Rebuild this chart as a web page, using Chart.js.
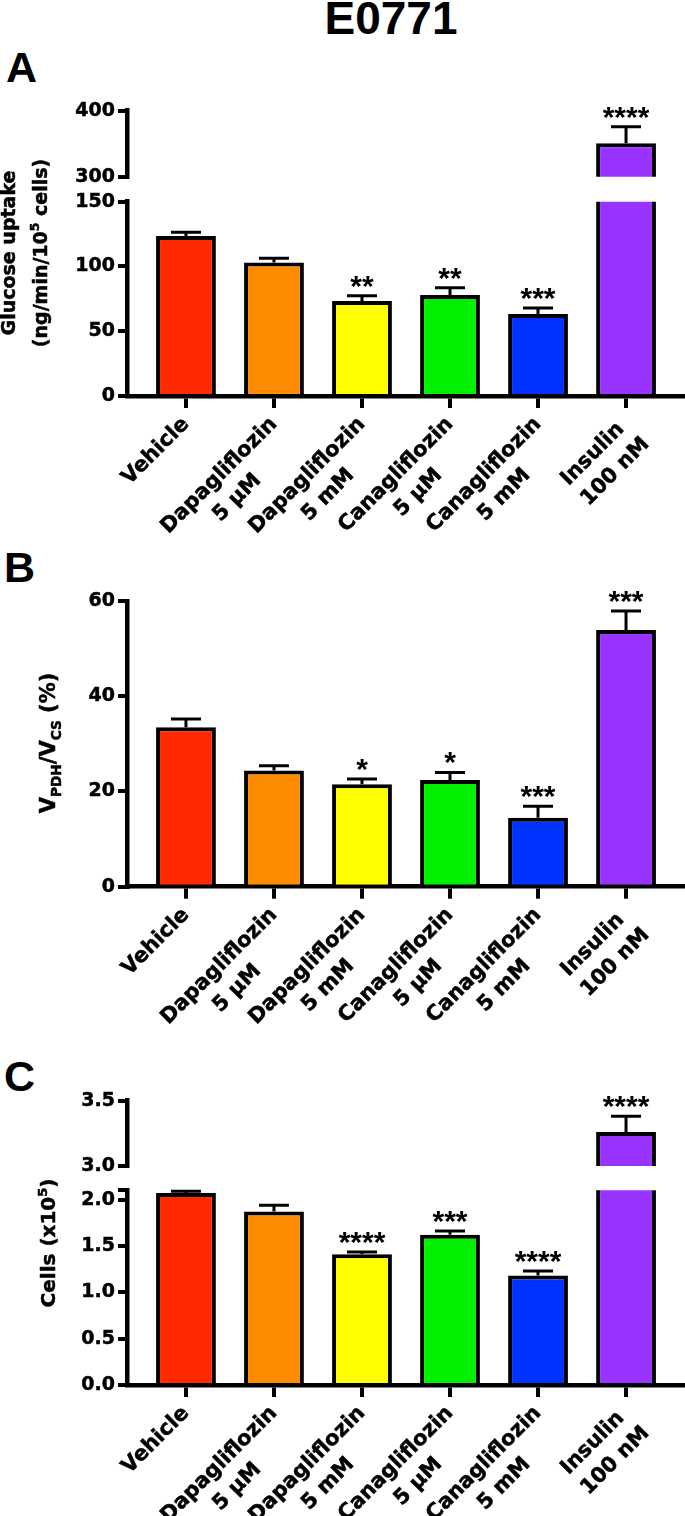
<!DOCTYPE html>
<html>
<head>
<meta charset="utf-8">
<script src="https://cdn.jsdelivr.net/npm/chart.js@4.4.1/dist/chart.umd.min.js"></script>
<style>
  body { margin: 0; background: #fff; width: 685px; height: 1516px; position: relative; overflow: hidden; }
  canvas { position: absolute; left: 0; }
  .head { position: absolute; font-family: "Liberation Sans", Arial, sans-serif; font-weight: bold; color: #000; white-space: nowrap; }
  #title { font-size: 46px; line-height: 46px; left: 291px; width: 200px; text-align: center; top: -5px; }
  .letter { font-size: 43px; line-height: 43px; }
</style>
</head>
<body>
<div id="title" class="head">E0771</div>
<div class="head letter" style="left:6px;top:46px">A</div>
<div class="head letter" style="left:4px;top:546px">B</div>
<div class="head letter" style="left:4px;top:1055px">C</div>

<canvas id="aHigh" width="685" height="105" style="top:80px"></canvas>
<canvas id="aLow" width="685" height="455" style="top:90px"></canvas>
<canvas id="bOnly" width="685" height="470" style="top:570px"></canvas>
<canvas id="cHigh" width="685" height="104" style="top:1070px"></canvas>
<canvas id="cLow" width="685" height="446" style="top:1070px"></canvas>

<script>
// Groups along the x axis
const xLabels = [
    ['Vehicle'],
    ['Dapagliflozin', '5 µM'],
    ['Dapagliflozin', '5 mM'],
    ['Canagliflozin', '5 µM'],
    ['Canagliflozin', '5 mM'],
    ['Insulin', '100 nM']
];
const barColors = ['#ff2a00', '#ff8c00', '#ffff00', '#00f000', '#0033ff', '#9933ff'];

// A: glucose uptake (mean, SEM)
const aMean = [123.5, 103, 73.4, 78, 63.3, 350.6];
const aSem = [3, 3.4, 4, 5.5, 4.7, 25];
const aStars = ['', '', '**', '**', '***', '****'];
const aTicksLow = [0, 50, 100, 150];
const aTickLabelsLow = ['0', '50', '100', '150'];
const aTicksHigh = [300, 400];
const aTickLabelsHigh = ['300', '400'];

// B: VPDH/VCS
const bMean = [33.5, 24.4, 21.5, 22.4, 14.5, 53.9];
const bSem = [1.7, 1.0, 1.1, 1.6, 2.4, 4.0];
const bStars = ['', '', '*', '*', '***', '***'];
const bTicks = [0, 20, 40, 60];
const bTickLabels = ['0', '20', '40', '60'];

// C: cell count
const cMean = [2.07, 1.87, 1.41, 1.62, 1.18, 3.26];
const cSem = [0.02, 0.07, 0.025, 0.04, 0.05, 0.12];
const cStars = ['', '', '****', '***', '****', '****'];
const cTicksLow = [0, 0.5, 1.0, 1.5, 2.0, 2.1];
const cTickLabelsLow = ['0.0', '0.5', '1.0', '1.5', '2.0', ''];
const cTicksHigh = [3.0, 3.5];
const cTickLabelsHigh = ['3.0', '3.5'];

// Axis titles, split in runs so sub/superscripts can be drawn
const aTitle = [
    [{ t: 'Glucose uptake' }],
    [{ t: '(ng/min/10' }, { t: '5', sup: true }, { t: ' cells)' }]
];
const bTitle = [
    [{ t: 'V' }, { t: 'PDH', sub: true }, { t: '/V' }, { t: 'CS', sub: true }, { t: ' (%)' }]
];
const cTitle = [
    [{ t: 'Cells (x10' }, { t: '5', sup: true }, { t: ')' }]
];

const FONT = '"DejaVu Sans", Verdana, sans-serif';
const STAR_FONT = 'bold 30px "Liberation Sans", Arial, sans-serif';
const measureCtx = document.createElement('canvas').getContext('2d');

/**
 * Chart.js right-aligns rotated labels; pad the short line so both lines look centred
 */
function centred(lines) {
    if (lines.length < 2) return lines;
    measureCtx.font = 'bold 21px ' + FONT;
    const widths = lines.map(l => measureCtx.measureText(l).width);
    const maxW = Math.max(...widths);
    const sp = measureCtx.measureText(' ').width;
    return lines.map((l, k) => l + ' '.repeat(Math.round((maxW - widths[k]) / 2 / sp)));
}

/**
 * Error bars (upper whisker only) plus significance stars
 */
function errorBars(mean, sem, stars) {
    return {
        id: 'errorBars',
        afterDatasetsDraw(chart) {
            const { ctx, scales: { x, y } } = chart;
            ctx.save();
            ctx.strokeStyle = '#000';
            ctx.fillStyle = '#000';
            ctx.lineWidth = 3;
            mean.forEach((m, i) => {
                const top = m + sem[i];
                if (top < y.min || top > y.max) return;
                const px = x.getPixelForValue(i);
                const yTop = y.getPixelForValue(top);
                const yBar = y.getPixelForValue(m);
                ctx.beginPath();
                ctx.moveTo(px, yBar);
                ctx.lineTo(px, yTop);
                ctx.moveTo(px - 15, yTop);
                ctx.lineTo(px + 15, yTop);
                ctx.stroke();
                if (stars[i]) {
                    ctx.font = STAR_FONT;
                    ctx.textAlign = 'center';
                    ctx.textBaseline = 'alphabetic';
                    const mt = ctx.measureText(stars[i]);
                    ctx.fillText(stars[i], px, yTop - 8 - mt.actualBoundingBoxDescent);
                }
            });
            ctx.restore();
        }
    };
}

/**
 * Rotated y-axis title with sub/superscript runs
 */
function axisTitle(lines, baselines, cy, size) {
    return {
        id: 'axisTitle',
        afterDraw(chart) {
            const ctx = chart.ctx;
            ctx.save();
            ctx.fillStyle = '#000';
            ctx.strokeStyle = '#000';
            ctx.lineWidth = 0.5;
            ctx.textBaseline = 'alphabetic';
            ctx.textAlign = 'left';
            lines.forEach((runs, k) => {
                ctx.save();
                ctx.translate(baselines[k], cy);
                ctx.rotate(-Math.PI / 2);
                let total = 0;
                const parts = runs.map(r => {
                    const fs = (r.sup || r.sub) ? size * 0.65 : size;
                    ctx.font = `bold ${fs}px ${FONT}`;
                    const w = ctx.measureText(r.t).width;
                    total += w;
                    return { r, fs, w };
                });
                let px = -total / 2;
                parts.forEach(p => {
                    ctx.font = `bold ${p.fs}px ${FONT}`;
                    const dy = p.r.sup ? -size * 0.42 : p.r.sub ? size * 0.28 : 0;
                    ctx.strokeText(p.r.t, px, dy);
                    ctx.fillText(p.r.t, px, dy);
                    px += p.w;
                });
                ctx.restore();
            });
            ctx.restore();
        }
    };
}

function makeChart(id, o) {
    const plugins = [errorBars(o.mean, o.sem, o.stars)];
    if (o.title) plugins.push(axisTitle(o.title.lines, o.title.baselines, o.title.cy, o.title.size));

    return new Chart(document.getElementById(id), {
        type: 'bar',
        data: {
            datasets: [{
                data: o.mean.map((v, i) => ({ x: i, y: v })),
                backgroundColor: barColors,
                borderColor: '#000',
                borderWidth: 4,
                borderSkipped: 'start',
                barPercentage: 0.68,
                categoryPercentage: 1,
                clip: { left: 20, right: 20, top: 0, bottom: o.showX ? 6 : 0 }
            }]
        },
        options: {
            responsive: false,
            animation: false,
            events: [],
            layout: { padding: { top: o.padTop, bottom: o.padBottom || 0, left: 0, right: 0 } },
            plugins: { legend: { display: false }, tooltip: { enabled: false }, title: { display: false } },
            scales: {
                x: {
                    type: 'linear',
                    min: -0.67,
                    max: 5.67,
                    offset: false,
                    display: o.showX,
                    z: 1,
                    afterBuildTicks: s => { s.ticks = xLabels.map((_, i) => ({ value: i })); },
                    afterFit: s => { if (o.showX) s.height = o.xHeight; },
                    grid: { drawOnChartArea: false, tickLength: 12, lineWidth: 4, color: '#000', offset: false },
                    border: { display: true, color: '#000', width: 4.5 },
                    ticks: {
                        autoSkip: false,
                        minRotation: 45,
                        maxRotation: 45,
                        padding: 3,
                        color: '#000',
                        textStrokeColor: '#000',
                        textStrokeWidth: 0.5,
                        font: { family: FONT, weight: 'bold', size: 21, lineHeight: 1.35 },
                        callback: (v, i) => centred(xLabels[i])
                    }
                },
                y: {
                    min: o.min,
                    max: o.max,
                    z: 1,
                    afterBuildTicks: s => { s.ticks = o.ticks.map(v => ({ value: v })); },
                    afterFit: s => {
                        s.width = 127;
                        // keep the axis segment where it is; labels may hang over the padding
                        s.paddingTop = 0;
                        s.paddingBottom = 0;
                    },
                    grid: { drawOnChartArea: false, tickLength: 9, lineWidth: 4, color: '#000' },
                    border: { display: true, color: '#000', width: 4.5 },
                    ticks: {
                        autoSkip: false,
                        padding: 3,
                        color: '#000',
                        textStrokeColor: '#000',
                        textStrokeWidth: 0.5,
                        font: { family: FONT, weight: 'bold', size: 19 },
                        callback: (v, i) => o.tickLabels[i]
                    }
                }
            }
        },
        plugins: plugins
    });
}

// Panel A (broken axis: two stacked charts)
makeChart('aHigh', { mean: aMean, sem: aSem, stars: aStars, min: 300, max: 400,
    ticks: aTicksHigh, tickLabels: aTickLabelsHigh, showX: false, padTop: 30.7, padBottom: 8.3 });
makeChart('aLow', { mean: aMean, sem: aSem, stars: aStars, min: 0, max: 150,
    ticks: aTicksLow, tickLabels: aTickLabelsLow, showX: true, padTop: 111.7, xHeight: 149,
    title: { lines: aTitle, baselines: [15, 47], cy: 163, size: 19 } });

// Panel B
makeChart('bOnly', { mean: bMean, sem: bSem, stars: bStars, min: 0, max: 60,
    ticks: bTicks, tickLabels: bTickLabels, showX: true, padTop: 31, xHeight: 153.3,
    title: { lines: bTitle, baselines: [55], cy: 173, size: 21 } });

// Panel C (broken axis)
makeChart('cHigh', { mean: cMean, sem: cSem, stars: cStars, min: 3.0, max: 3.5,
    ticks: cTicksHigh, tickLabels: cTickLabelsHigh, showX: false, padTop: 30.7, padBottom: 8 });
makeChart('cLow', { mean: cMean, sem: cSem, stars: cStars, min: 0, max: 2.1,
    ticks: cTicksLow, tickLabels: cTickLabelsLow, showX: true, padTop: 120.3, xHeight: 131,
    title: { lines: cTitle, baselines: [55], cy: 173, size: 20 } });
</script>
</body>
</html>
